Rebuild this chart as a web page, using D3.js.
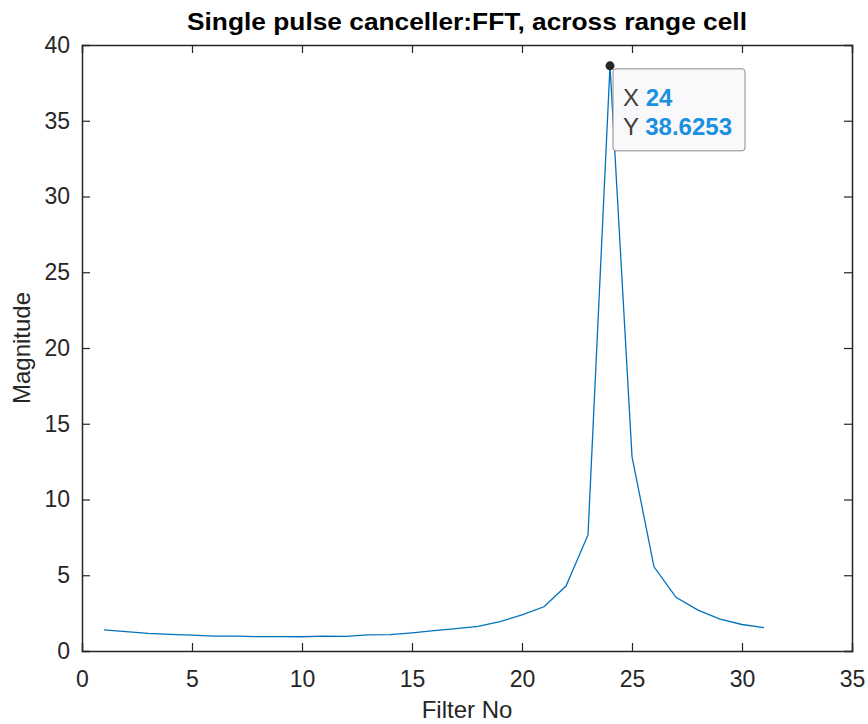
<!DOCTYPE html>
<html><head><meta charset="utf-8">
<script src="https://cdn.jsdelivr.net/npm/d3@7"></script>
<style>html,body{margin:0;padding:0;background:#fff;}svg{display:block;}</style>
</head><body>
<svg id="chart" width="868" height="724"></svg>
<script>
const filterNo = [1,2,3,4,5,6,7,8,9,10,11,12,13,14,15,16,17,18,19,20,21,22,23,24,25,26,27,28,29,30,31];
const magnitude = [1.39,1.28,1.17,1.10,1.05,0.98,0.98,0.95,0.95,0.94,0.98,0.96,1.07,1.08,1.20,1.35,1.48,1.62,1.94,2.38,2.92,4.29,7.66,38.6253,12.83,5.56,3.54,2.70,2.10,1.75,1.54];
const xTicks = [0,5,10,15,20,25,30,35];
const yTicks = [0,5,10,15,20,25,30,35,40];
const titleText = "Single pulse canceller:FFT, across range cell";
const xLabel = "Filter No";
const yLabel = "Magnitude";
const tipX = 24, tipY = 38.6253;

const svg = d3.select("#chart");
const L = 82, R = 852, T = 45, B = 651;
const axisColor = "#262626";
const font = "'Liberation Sans', Arial, Helvetica, sans-serif";

const x = d3.scaleLinear().domain([0,35]).range([L,R]);
const y = d3.scaleLinear().domain([0,40]).range([B,T]);

svg.append("rect").attr("x",L).attr("y",T).attr("width",R-L).attr("height",B-T)
  .attr("fill","#fff").attr("stroke","none");

const tickLen = 8;
const gx = svg.append("g").attr("transform",`translate(0,${B})`)
  .call(d3.axisBottom(x).tickValues(xTicks).tickSize(-tickLen).tickPadding(20).tickFormat(d3.format("d")));
const gxTop = svg.append("g").attr("transform",`translate(0,${T})`)
  .call(d3.axisTop(x).tickValues(xTicks).tickSize(-tickLen).tickFormat(""));
const gy = svg.append("g").attr("transform",`translate(${L},0)`)
  .call(d3.axisLeft(y).tickValues(yTicks).tickSize(-tickLen).tickPadding(12).tickFormat(d3.format("d")));
const gyR = svg.append("g").attr("transform",`translate(${R},0)`)
  .call(d3.axisRight(y).tickValues(yTicks).tickSize(-tickLen).tickFormat(""));
[gx,gxTop,gy,gyR].forEach(g=>{
  g.select(".domain").attr("stroke",axisColor).attr("stroke-width",1.5);
  g.selectAll(".tick line").attr("stroke",axisColor).attr("stroke-width",1.2);
  g.selectAll(".tick text").attr("fill",axisColor).style("font-family",font).style("font-size","23px");
});
gx.selectAll(".tick").filter(d=>d===0||d===35).select("line").remove();
gxTop.selectAll(".tick").filter(d=>d===0||d===35).select("line").remove();
gy.selectAll(".tick").filter(d=>d===0||d===40).select("line").remove();
gyR.selectAll(".tick").filter(d=>d===0||d===40).select("line").remove();
gx.selectAll(".tick text").attr("dy","0.71em");

const line = d3.line().x((d,i)=>x(filterNo[i])).y(d=>y(d));
svg.append("path").datum(magnitude).attr("d",line)
  .attr("fill","none").attr("stroke","#0072BD").attr("stroke-width",1.3);

svg.append("text").attr("x",(L+R)/2).attr("y",30).attr("text-anchor","middle")
  .attr("textLength",560).attr("lengthAdjust","spacingAndGlyphs")
  .style("font-family",font).style("font-weight","bold").style("font-size","24px")
  .attr("fill","#000").text(titleText);
svg.append("text").attr("x",(L+R)/2).attr("y",718).attr("text-anchor","middle")
  .style("font-family",font).style("font-size","24px").attr("fill",axisColor).text(xLabel);
svg.append("text").attr("transform",`translate(30,${(T+B)/2}) rotate(-90)`).attr("text-anchor","middle")
  .style("font-family",font).style("font-size","24px").attr("fill",axisColor).text(yLabel);

const px = x(tipX), py = y(tipY);
const tip = svg.append("g");
tip.append("rect").attr("x",px+3).attr("y",py+3).attr("width",132).attr("height",82).attr("rx",3)
  .attr("fill","#f9f9fb").attr("stroke","#8c8c8c").attr("stroke-width",1);
const t1 = tip.append("text").attr("x",px+13).attr("y",py+40).style("font-family",font).style("font-size","24px");
t1.append("tspan").attr("fill","#404040").text("X ");
t1.append("tspan").attr("fill","#1a90e0").style("font-weight","bold").text(String(tipX));
const t2 = tip.append("text").attr("x",px+13).attr("y",py+69).style("font-family",font).style("font-size","24px");
t2.append("tspan").attr("fill","#404040").text("Y ");
t2.append("tspan").attr("fill","#1a90e0").style("font-weight","bold").text(String(tipY));
svg.append("circle").attr("cx",px).attr("cy",py).attr("r",4.5).attr("fill","#262626");
</script>
</body></html>
